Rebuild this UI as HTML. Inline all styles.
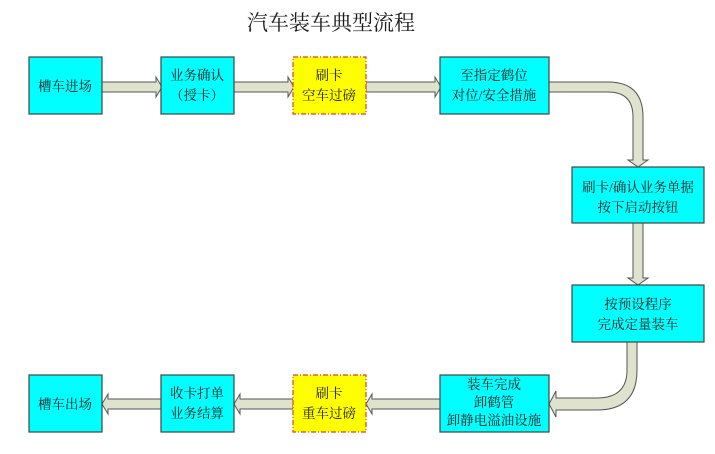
<!DOCTYPE html>
<html><head><meta charset="utf-8"><style>
html,body{margin:0;padding:0;background:#fff;}
svg{display:block;}
text{font-family:"Liberation Serif","Noto Serif CJK SC",serif;fill:#1a1a1a;}
</style></head><body>
<svg width="715" height="454" viewBox="0 0 715 454" xmlns="http://www.w3.org/2000/svg">
<text x="331" y="30" font-size="21" text-anchor="middle">汽车装车典型流程</text>
<g fill="#dfe3cd" stroke="#555" stroke-width="1">
<!-- top arrows -->
<path d="M102,82 H156 V77 L162,87 L156,97 V92 H102 Z"/>
<path d="M234,82 H288 V77 L294,87 L288,97 V92 H234 Z"/>
<path d="M366,82 H435 V77 L441,87 L435,97 V92 H366 Z"/>
<!-- curved top right -->
<path d="M549,82 H608 Q643,82 643,117 V160 H648 L638,167 L628,160 H633 V117 Q633,92 608,92 H549 Z"/>
<!-- middle down -->
<path d="M633,223 V278 H628 L638,285 L648,278 H643 V223 Z"/>
<!-- curved bottom right -->
<path d="M637,342 V370 Q637,410 597,410 H556 V417 L549,404 L556,391 V398 H597 Q627,398 627,370 V342 Z"/>
<!-- bottom arrows -->
<path d="M440,399 H372 V394 L366,404 L372,414 V409 H440 Z"/>
<path d="M293,399 H240 V394 L234,404 L240,414 V409 H293 Z"/>
<path d="M161,399 H108 V394 L102,404 L108,414 V409 H161 Z"/>
</g>
<g fill="#00ffff" stroke="#444" stroke-width="1.2">
<rect x="29" y="57" width="73" height="57"/>
<rect x="161" y="57" width="73" height="57"/>
<rect x="440" y="57" width="109" height="57"/>
<rect x="572" y="167" width="132" height="56"/>
<rect x="572" y="285" width="132" height="57"/>
<rect x="440" y="375" width="109" height="57"/>
<rect x="161" y="375" width="73" height="57"/>
<rect x="29" y="375" width="73" height="57"/>
</g>
<g fill="#ffff00" stroke="#e83a2a" stroke-width="1.2" stroke-dasharray="5,2,1,2">
<rect x="293" y="57" width="73" height="57"/>
<rect x="293" y="375" width="73" height="57"/>
</g>
<g font-size="13.5" text-anchor="middle">
<text x="65" y="91">槽车进场</text>
<text x="197" y="80">业务确认</text>
<text x="197" y="100">（授卡）</text>
<text x="329" y="80">刷卡</text>
<text x="329" y="100">空车过磅</text>
<text x="494" y="80">至指定鹤位</text>
<text x="494" y="100">对位/安全措施</text>
<text x="638" y="192">刷卡/确认业务单据</text>
<text x="638" y="212">按下启动按钮</text>
<text x="638" y="309">按预设程序</text>
<text x="638" y="329">完成定量装车</text>
<text x="494" y="389">装车完成</text>
<text x="494" y="407">卸鹤管</text>
<text x="494" y="425">卸静电溢油设施</text>
<text x="329" y="398">刷卡</text>
<text x="329" y="418">重车过磅</text>
<text x="197" y="398">收卡打单</text>
<text x="197" y="418">业务结算</text>
<text x="65" y="409">槽车出场</text>
</g>
</svg>
</body></html>
